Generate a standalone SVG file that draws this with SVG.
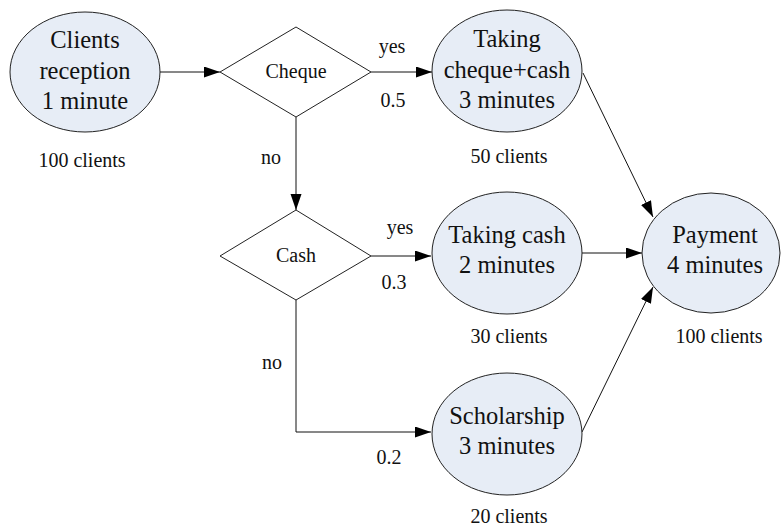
<svg xmlns="http://www.w3.org/2000/svg" width="781" height="526" viewBox="0 0 781 526">
<style>
  .node { fill: #E7EDF6; stroke: #222; stroke-width: 1; }
  .dec { fill: #fff; stroke: #222; stroke-width: 1; }
  text { font-family: 'Liberation Serif', 'Tinos', 'Times New Roman', Times, 'DejaVu Serif', serif; fill: #111; text-anchor: middle; }
  .big { font-size: 24.5px; }
  .small { font-size: 20px; }
  .edge { fill: none; stroke: #111; stroke-width: 1; }
</style>
<defs>
  <marker id="arr" markerUnits="userSpaceOnUse" markerWidth="17" markerHeight="12" refX="16" refY="5.5" orient="auto">
    <path d="M0,0 L16,5.5 L0,11 z" fill="#000"/>
  </marker>
</defs>
<rect width="781" height="526" fill="#fff"/>
<g id="connectors">
  <line class="edge" x1="160" y1="72" x2="220" y2="72" marker-end="url(#arr)"/>
  <line class="edge" x1="371" y1="72" x2="432" y2="72" marker-end="url(#arr)"/>
  <line class="edge" x1="296" y1="117" x2="296" y2="210" marker-end="url(#arr)"/>
  <line class="edge" x1="371" y1="256" x2="431" y2="256" marker-end="url(#arr)"/>
  <polyline class="edge" points="296,300 296,432 431,432" marker-end="url(#arr)"/>
  <line class="edge" x1="583" y1="73" x2="653" y2="217" marker-end="url(#arr)"/>
  <line class="edge" x1="582" y1="253" x2="642" y2="253" marker-end="url(#arr)"/>
  <line class="edge" x1="582" y1="432" x2="653" y2="287" marker-end="url(#arr)"/>
  <text class="small" x="392" y="53" font-family="Liberation Serif, serif">yes</text>
  <text class="small" x="393" y="107" font-family="Liberation Serif, serif">0.5</text>
  <text class="small" x="271" y="164" font-family="Liberation Serif, serif">no</text>
  <text class="small" x="400" y="234" font-family="Liberation Serif, serif">yes</text>
  <text class="small" x="394" y="289" font-family="Liberation Serif, serif">0.3</text>
  <text class="small" x="272" y="369" font-family="Liberation Serif, serif">no</text>
  <text class="small" x="389" y="464" font-family="Liberation Serif, serif">0.2</text>
</g>
<g id="reception">
  <ellipse class="node" cx="85" cy="72" rx="75" ry="60"/>
  <text class="big" x="85" y="48">Clients</text>
  <text class="big" x="85" y="79">reception</text>
  <text class="big" x="85" y="109">1 minute</text>
  <text class="small" x="82" y="167">100 clients</text>
</g>
<g id="cheque">
  <polygon class="dec" points="296,27 371,72 296,117 220,72"/>
  <text class="small" x="296" y="78">Cheque</text>
</g>
<g id="cash">
  <polygon class="dec" points="296,210 371,256 296,300 220,256"/>
  <text class="small" x="296" y="262">Cash</text>
</g>
<g id="taking-cheque-cash">
  <ellipse class="node" cx="507" cy="71" rx="75" ry="61"/>
  <text class="big" x="507" y="47">Taking</text>
  <text class="big" x="507" y="78">cheque+cash</text>
  <text class="big" x="507" y="108">3 minutes</text>
  <text class="small" x="509" y="163">50 clients</text>
</g>
<g id="taking-cash">
  <ellipse class="node" cx="507" cy="253" rx="75" ry="61"/>
  <text class="big" x="507" y="243">Taking cash</text>
  <text class="big" x="507" y="273">2 minutes</text>
  <text class="small" x="509" y="343">30 clients</text>
</g>
<g id="scholarship">
  <ellipse class="node" cx="507" cy="434" rx="75" ry="61"/>
  <text class="big" x="507" y="424">Scholarship</text>
  <text class="big" x="507" y="454">3 minutes</text>
  <text class="small" x="509" y="523">20 clients</text>
</g>
<g id="payment">
  <ellipse class="node" cx="711" cy="253" rx="69" ry="60"/>
  <text class="big" x="715" y="243">Payment</text>
  <text class="big" x="715" y="273">4 minutes</text>
  <text class="small" x="719" y="343">100 clients</text>
</g>
</svg>
